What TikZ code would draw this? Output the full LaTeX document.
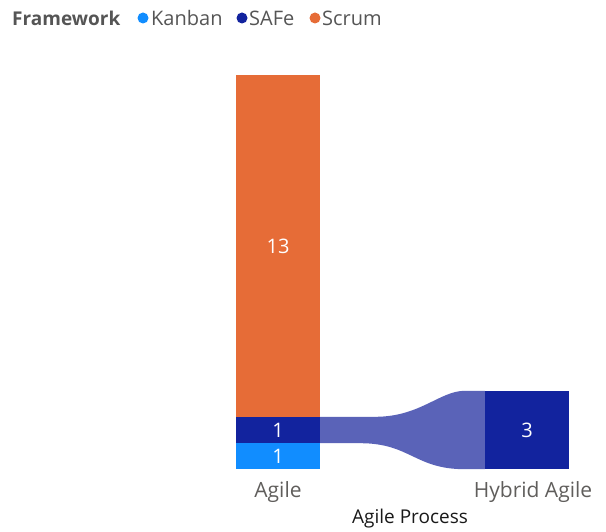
\documentclass[tikz,border=0pt]{standalone}
\usepackage{fontspec}
\setmainfont{Open Sans}
\usetikzlibrary{calc}
\usetikzlibrary{positioning}
\definecolor{ScrumOrange}{HTML}{E66C37}
\definecolor{SAFeBlue}{HTML}{12239E}
\definecolor{KanbanBlue}{HTML}{118DFF}
\definecolor{FlowBlue}{HTML}{5A63B8}
\definecolor{LegendGray}{HTML}{555555}
\definecolor{AxisGray}{HTML}{605E5C}
\tikzset{
  bar/.style={draw=none,minimum width=84pt,inner sep=0pt,text=white,font=\fontsize{20}{24}\selectfont},
  dot/.style={circle,inner sep=0pt,minimum size=11pt},
  legtxt/.style={inner sep=0pt,anchor=west,text=LegendGray,font=\fontsize{20}{24}\selectfont},
  axtxt/.style={inner sep=0pt,text=AxisGray,font=\fontsize{21}{24}\selectfont}
}
\begin{document}
\begin{tikzpicture}[x=1pt,y=-1pt]
  \useasboundingbox (0,0) rectangle (606,532);

  % Legend
  \node[legtxt,font=\fontsize{19}{22}\selectfont\bfseries] (fw) at (12,18) {Framework};
  \node[dot,fill=KanbanBlue] (dk) at (143,18) {};
  \node[legtxt] (lk) at (151,18) {Kanban};
  \node[dot,fill=SAFeBlue] (ds) at (242,18) {};
  \node[legtxt] (ls) at (249,18) {SAFe};
  \node[dot,fill=ScrumOrange] (dc) at (315,18) {};
  \node[legtxt] (lc) at (322,18) {Scrum};

  % Bars
  \node[bar,fill=ScrumOrange,minimum height=342pt] (scrum) at (278,246) {13};
  \node[bar,fill=SAFeBlue,minimum height=26pt] (safe) at (278,430) {1};
  \node[bar,fill=KanbanBlue,minimum height=26pt] (kanban) at (278,456) {1};
  \node[bar,fill=SAFeBlue,minimum height=78pt] (hybrid) at (527,430) {3};

  % Flow from Agile/SAFe to Hybrid Agile
  \fill[FlowBlue]
    (safe.north east) -- ++(55,0)
      .. controls ++(45,0) and ($(hybrid.north west)+(-45,0)$) .. ($(hybrid.north west)+(-20,0)$)
      -- (hybrid.north west) -- (hybrid.south west) -- ++(-20,0)
      .. controls ++(-50,0) and ($(safe.south east)+(90,0)$) .. ($(safe.south east)+(40,0)$)
      -- (safe.south east) -- cycle;

  % Axis labels
  \node[axtxt,below=12pt of kanban] (agile) {Agile};
  \node[axtxt,below=12pt of hybrid,xshift=6pt] (hyb) {Hybrid Agile};
  \node[inner sep=0pt,text=black!90,font=\fontsize{19}{22}\selectfont] (proc) at (410,519) {Agile Process};
\end{tikzpicture}
\end{document}
